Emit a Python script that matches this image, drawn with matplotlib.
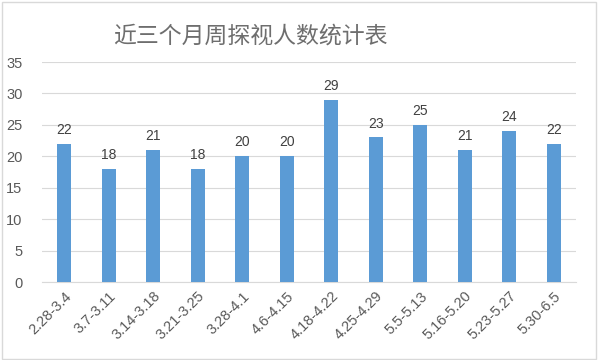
import matplotlib
matplotlib.use("Agg")
import matplotlib.pyplot as plt
from matplotlib.patches import Rectangle

plt.rcParams['font.family'] = ['Noto Sans CJK SC', 'DejaVu Sans']

categories = ["2.28-3.4", "3.7-3.11", "3.14-3.18", "3.21-3.25", "3.28-4.1", "4.6-4.15",
              "4.18-4.22", "4.25-4.29", "5.5-5.13", "5.16-5.20", "5.23-5.27", "5.30-6.5"]
values = [22, 18, 21, 18, 20, 20, 29, 23, 25, 21, 24, 22]
title = "近三个月周探视人数统计表"

fig = plt.figure(figsize=(6, 3.6), dpi=100)
ax = fig.add_axes([42/600, 1-282/360, (576-42)/600, (282-62)/360])

x = range(len(categories))
ax.bar(x, values, width=0.32, color="#5B9BD5", zorder=3)
for xi, v in zip(x, values):
    ax.text(xi, v + 1.1, str(v), ha="center", va="bottom", fontsize=10, color="#404040",
            family=['Liberation Sans', 'DejaVu Sans'])

ax.set_xlim(-0.5, len(categories) - 0.5)
ax.set_ylim(0, 35)
ax.set_yticks(range(0, 36, 5))
ax.grid(axis="y", color="#D9D9D9", linewidth=0.8, zorder=0)
for s in ax.spines.values():
    s.set_visible(False)
ax.spines['bottom'].set_visible(True)
ax.spines['bottom'].set_color("#D9D9D9")
ax.tick_params(axis="both", length=0, colors="#595959", labelsize=10.5)
ax.set_xticks(list(x))
ax.set_xticklabels(categories, rotation=45, ha="right", rotation_mode="anchor",
                   family=['Liberation Sans', 'DejaVu Sans'])
for lab in ax.get_yticklabels():
    lab.set_family(['Liberation Sans', 'DejaVu Sans'])
ax.tick_params(axis="y", pad=14)
ax.tick_params(axis="x", pad=5)

fig.text(250/600, 1-36/360, title, ha="center", va="center", fontsize=16.5, color="#6E6E6E")

fig.patches.append(Rectangle((0.003, 0.004), 0.99, 0.99, transform=fig.transFigure,
                             fill=False, edgecolor="#D9D9D9", linewidth=1))

fig.savefig("out.png", dpi=100)
